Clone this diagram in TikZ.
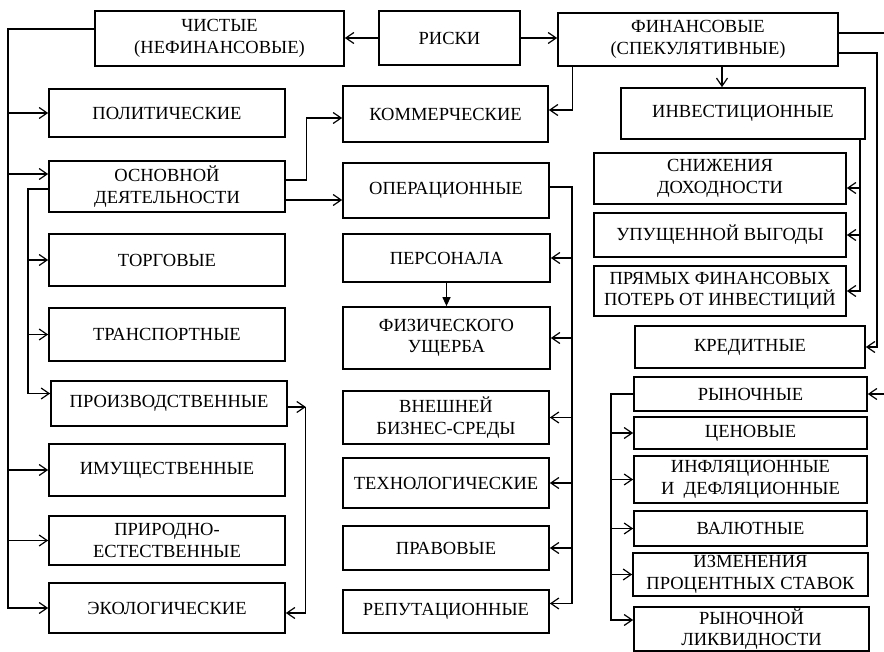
\documentclass[tikz,border=0pt]{standalone}
\usepackage{fontspec}
\setmainfont{Liberation Serif}
\usetikzlibrary{arrows.meta}

\begin{document}
\begin{tikzpicture}[x=1pt,y=-1pt,
  box/.style={draw=black,line width=1.7pt,inner sep=0pt,align=center,
    font=\fontsize{18.5}{21.5}\selectfont},
  line/.style={draw=black,line width=1.2pt},
  arr/.style={line,-{Straight Barb[length=8pt,width=11pt]}},
  darr/.style={line,-{Triangle[length=9pt,width=8pt]}}]
\useasboundingbox (0,0) rectangle (884,652);
\clip (0,0) rectangle (884,652);

\node[box,minimum width=249pt,minimum height=55pt] (chist) at (219.5,38.5) {ЧИСТЫЕ\\(НЕФИНАНСОВЫЕ)};
\node[box,minimum width=141pt,minimum height=54pt] (riski) at (449.5,38) {РИСКИ};
\node[box,minimum width=280pt,minimum height=53pt] (finans) at (698,39.5) {ФИНАНСОВЫЕ\\(СПЕКУЛЯТИВНЫЕ)};

\node[box,minimum width=236pt,minimum height=48pt] (polit) at (167,113) {ПОЛИТИЧЕСКИЕ};
\node[box,minimum width=236pt,minimum height=51pt] (osnov) at (167,186.5) {ОСНОВНОЙ\\ДЕЯТЕЛЬНОСТИ};
\node[box,minimum width=236pt,minimum height=52pt] (torg) at (167,260) {ТОРГОВЫЕ};
\node[box,minimum width=236pt,minimum height=53pt] (transp) at (167,334.5) {ТРАНСПОРТНЫЕ};
\node[box,minimum width=236pt,minimum height=45pt] (proizv) at (169,403.5) {ПРОИЗВОДСТВЕННЫЕ};
\node[box,minimum width=236pt,minimum height=52pt] (imush) at (167,470) {ИМУЩЕСТВЕННЫЕ};
\node[box,minimum width=236pt,minimum height=49pt] (prirod) at (167,540.5) {ПРИРОДНО-\\ЕСТЕСТВЕННЫЕ};
\node[box,minimum width=236pt,minimum height=50pt] (ekolog) at (167,608) {ЭКОЛОГИЧЕСКИЕ};

\node[box,minimum width=205pt,minimum height=56pt] (kommer) at (445.5,114) {КОММЕРЧЕСКИЕ};
\node[box,minimum width=206pt,minimum height=55pt] (operac) at (446,190.5) {ОПЕРАЦИОННЫЕ};
\node[box,minimum width=207pt,minimum height=48pt] (person) at (446.5,258) {ПЕРСОНАЛА};
\node[box,minimum width=207pt,minimum height=62pt] (fizich) at (446.5,338) {ФИЗИЧЕСКОГО\\УЩЕРБА};
\node[box,minimum width=206pt,minimum height=53pt] (vnesh) at (446,417.5) {ВНЕШНЕЙ\\БИЗНЕС-СРЕДЫ};
\node[box,minimum width=206pt,minimum height=50pt] (tehnol) at (446,483) {ТЕХНОЛОГИЧЕСКИЕ};
\node[box,minimum width=206pt,minimum height=44pt] (pravov) at (446,548) {ПРАВОВЫЕ};
\node[box,minimum width=206pt,minimum height=43pt] (reput) at (446,611.5) {РЕПУТАЦИОННЫЕ};

\node[box,minimum width=244pt,minimum height=51pt] (invest) at (743,113.5) {ИНВЕСТИЦИОННЫЕ};
\node[box,minimum width=252pt,minimum height=51pt] (snizh) at (720,178.5) {СНИЖЕНИЯ\\ДОХОДНОСТИ};
\node[box,minimum width=252pt,minimum height=44pt] (upush) at (720,235) {УПУЩЕННОЙ ВЫГОДЫ};
\node[box,minimum width=252pt,minimum height=50pt] (pryam) at (720,291) {ПРЯМЫХ ФИНАНСОВЫХ\\ПОТЕРЬ ОТ ИНВЕСТИЦИЙ};
\node[box,minimum width=230pt,minimum height=42pt] (kredit) at (750,347) {КРЕДИТНЫЕ};
\node[box,minimum width=233pt,minimum height=34pt] (rynoch) at (750.5,394) {РЫНОЧНЫЕ};
\node[box,minimum width=233pt,minimum height=32pt] (cenov) at (750.5,433) {ЦЕНОВЫЕ};
\node[box,minimum width=233pt,minimum height=47pt] (inflac) at (750.5,479.5) {ИНФЛЯЦИОННЫЕ\\И~~ДЕФЛЯЦИОННЫЕ};
\node[box,minimum width=233pt,minimum height=35pt] (valyut) at (750.5,528.5) {ВАЛЮТНЫЕ};
\node[box,minimum width=235pt,minimum height=43pt] (izmen) at (750.5,574.5) {ИЗМЕНЕНИЯ\\ПРОЦЕНТНЫХ СТАВОК};
\node[box,minimum width=235pt,minimum height=44pt] (likvid) at (751.5,629) {РЫНОЧНОЙ\\ЛИКВИДНОСТИ};

\draw[arr] (riski.west) -- (riski.west -| chist.east);
\draw[arr] (riski.east) -- (riski.east -| finans.west);

\coordinate (lbus) at (8,0);
\coordinate (lbus2) at (28,0);
\coordinate (osnin) at ([yshift=12.5pt]osnov.west);
\coordinate (prin) at ([yshift=10pt]proizv.west);
\draw[arr] ([yshift=9.5pt]chist.west) -| (lbus |- ekolog.west) -- (ekolog.west);
\draw[arr] (lbus |- osnin) -- (osnin);
\foreach \n in {polit,imush,prirod}
  \draw[arr] (lbus |- \n.west) -- (\n.west);
\draw[arr] ([yshift=-2.5pt]osnov.west) -| (lbus2 |- prin) -- (prin);
\foreach \n in {torg,transp}
  \draw[arr] (lbus2 |- \n.west) -- (\n.west);

\draw[arr] ([yshift=6.5pt]osnov.east) -- ++(21,0) |- ([yshift=-4pt]kommer.west);
\draw[arr] ([yshift=-13.5pt]osnov.east) coordinate (o2) -- (o2 -| operac.west);
\draw[arr] ([yshift=-3.5pt]proizv.east) -- ++(18,0) coordinate (pz);
\draw[arr] (pz) |- ([yshift=-5pt]ekolog.east);

\coordinate (mbus) at (572,0);
\coordinate (repin) at ([yshift=8pt]reput.east);
\draw[arr] ([yshift=3.5pt]operac.east) -| (mbus |- repin) -- (repin);
\foreach \n in {person,fizich,vnesh,tehnol,pravov}
  \draw[arr] (mbus |- \n.east) -- (\n.east);
\draw[darr] (person.south) -- (fizich.north);

\draw[arr] ([xshift=15pt]finans.south west) |- ([yshift=4pt]kommer.east);
\draw[arr] ([xshift=24pt]finans.south) coordinate (f2) -- (f2 |- invest.north);

\coordinate (ibus) at (860,0);
\coordinate (snin) at ([yshift=-9.5pt]snizh.east);
\draw[arr] (ibus |- invest.south) -- (ibus |- pryam.east) -- (pryam.east);
\draw[arr] (ibus |- snin) -- (snin);
\draw[arr] (ibus |- upush.east) -- (upush.east);

\coordinate (rbus) at (895,0);
\coordinate (kbus) at (877,0);
\draw[arr] ([yshift=6.5pt]finans.east) -| (rbus |- rynoch.east) -- (rynoch.east);
\draw[arr] ([yshift=-13.5pt]finans.east) -| (kbus |- kredit.east) -- (kredit.east);

\coordinate (ybus) at (611,0);
\coordinate (lkin) at ([yshift=9pt]likvid.west);
\draw[arr] (rynoch.west) -| (ybus |- lkin) -- (lkin);
\foreach \n in {cenov,inflac,valyut,izmen}
  \draw[arr] (ybus |- \n.west) -- (\n.west);
\end{tikzpicture}
\end{document}
